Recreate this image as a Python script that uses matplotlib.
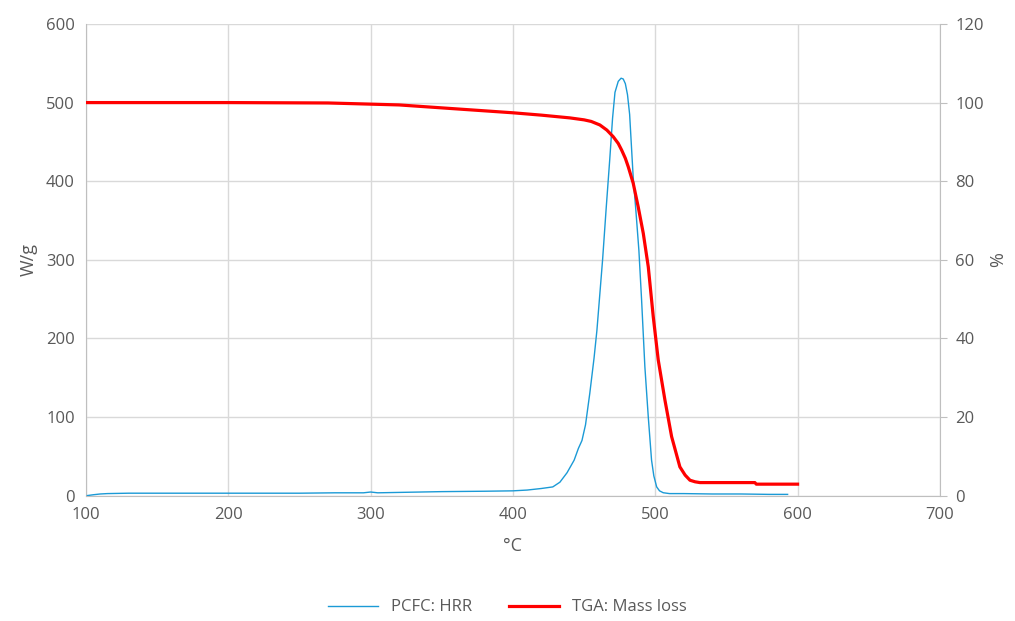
import matplotlib.pyplot as plt

# PCFC heat release rate (W/g) vs temperature (°C)
hrr_temp = [101, 105, 110, 115, 130, 150, 175, 200, 225, 250, 275, 295, 300, 305, 320,
            350, 380, 400, 410, 420, 428, 433, 438, 443, 446, 448.5, 451, 454, 457,
            459, 461, 463, 465.5, 468, 470, 471.7, 474, 476, 477.5, 479, 480.5, 482,
            484.5, 486.5, 488.5, 490.4, 492.7, 495.1, 497.4, 499, 501, 503, 505.6,
            510, 520, 540, 560, 580, 593]
hrr_vals = [0, 1, 2, 2.5, 3, 3, 3, 3, 3, 3, 3.5, 3.5, 4.5, 3.5, 4,
            5, 5.5, 6, 7, 9, 11, 17, 29, 45, 60, 70, 90, 130, 175,
            210, 255, 300, 365, 427, 480, 513, 527, 531, 530, 524, 510, 485,
            405, 360, 312, 249, 164, 100, 45, 25, 11, 6, 3.6,
            2.5, 2.5, 2, 2, 1.5, 1.5]

# TGA mass loss (%) vs temperature (°C)
tga_temp = [100, 200, 270, 300, 320, 340, 360, 380, 400, 420, 440, 450, 455, 461.1,
            466, 470.5, 474, 476.4, 479, 481, 484.5, 488, 491.6, 495.1, 498.6, 502.1,
            506.8, 511.5, 517.3, 521, 524.4, 528, 531.4, 540, 570, 571, 600]
tga_vals = [100, 100, 99.9, 99.6, 99.4, 98.9, 98.4, 97.9, 97.4, 96.8, 96.1, 95.6, 95.2, 94.3,
            93.0, 91.3, 89.6, 87.9, 85.8, 83.7, 79.5, 73.5, 66.7, 58.2, 45.5, 34.5,
            24.3, 15, 7.3, 5.2, 3.9, 3.5, 3.3, 3.3, 3.3, 2.9, 2.9]

text_col = "#595959"
grid_col = "#D9D9D9"
plt.rcParams["font.family"] = ["Open Sans", "DejaVu Sans"]

fig = plt.figure(figsize=(10.15, 6.21), dpi=100)
ax = fig.add_axes([0.0847, 0.202, 0.8413, 0.7594])
ax2 = ax.twinx()

l1, = ax.plot(hrr_temp, hrr_vals, color="#1B9AD6", lw=1.0, label="PCFC: HRR", zorder=3)
l2, = ax2.plot(tga_temp, tga_vals, color="#FF0000", lw=2.3, label="TGA: Mass loss")

ax.set_xlim(100, 700)
ax.set_ylim(0, 600)
ax2.set_ylim(0, 120)
ax.set_xticks(range(100, 701, 100))
ax.set_yticks(range(0, 601, 100))
ax2.set_yticks(range(0, 121, 20))

ax.grid(True, color=grid_col, lw=1.0)
ax.set_axisbelow(True)

for a in (ax, ax2):
    for s in a.spines.values():
        s.set_visible(False)
ax.spines["left"].set_visible(True)
ax.spines["bottom"].set_visible(True)
ax2.spines["right"].set_visible(True)
for s in (ax.spines["left"], ax.spines["bottom"], ax2.spines["right"]):
    s.set_color("#BFBFBF")

ax.tick_params(axis="both", length=0, labelsize=12, labelcolor=text_col, pad=8)
ax2.tick_params(axis="y", length=5, color="#BFBFBF", labelsize=12, labelcolor=text_col, pad=6)

ax.set_xlabel("°C", fontsize=13, color=text_col, labelpad=10)
ax.set_ylabel("W/g", fontsize=13, color=text_col, labelpad=6)
ax2.set_ylabel("%", fontsize=13, color=text_col, labelpad=4)

fig.legend([l1, l2], ["PCFC: HRR", "TGA: Mass loss"], loc="center",
           bbox_to_anchor=(0.5, 0.022), ncol=2, frameon=False, fontsize=12,
           labelcolor=text_col, handlelength=3.0, columnspacing=2.2)

plt.savefig("out.png", dpi=100)
